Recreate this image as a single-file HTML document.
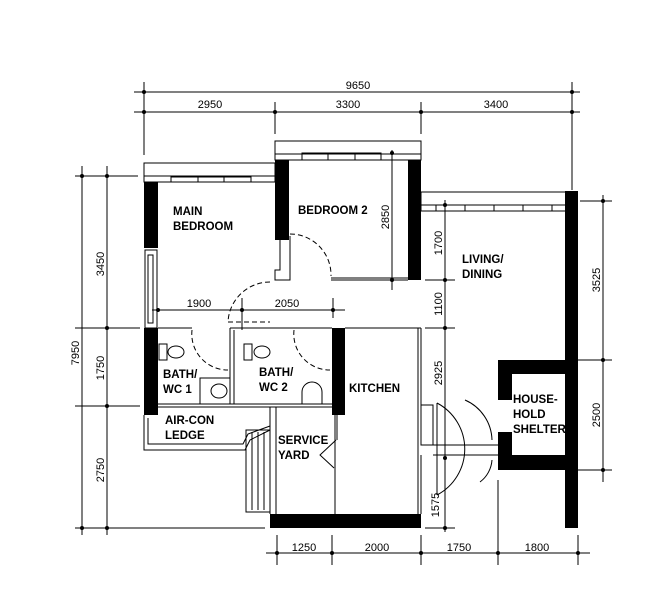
<!DOCTYPE html>
<html><head><meta charset="utf-8"><style>
html,body{margin:0;padding:0;background:#fff;}
svg{display:block;}
text{font-family:"Liberation Sans",Arial,sans-serif;fill:#000;}
.d{font-size:11px;}
.r{font-size:11.5px;font-weight:bold;}
</style></head><body>
<svg width="656" height="600" viewBox="0 0 656 600" xmlns="http://www.w3.org/2000/svg">
<g stroke="#000" stroke-width="1" fill="none">
<line x1="134" y1="92" x2="580" y2="92"/>
<line x1="134" y1="112" x2="580" y2="112"/>
<line x1="144" y1="82" x2="144" y2="155"/>
<line x1="275" y1="102" x2="275" y2="134"/>
<line x1="421" y1="102" x2="421" y2="134"/>
<line x1="572" y1="82" x2="572" y2="190"/>
<line x1="82" y1="166" x2="82" y2="535"/>
<line x1="107" y1="166" x2="107" y2="535"/>
<line x1="75" y1="176" x2="138" y2="176"/>
<line x1="75" y1="328" x2="140" y2="328"/>
<line x1="75" y1="406" x2="140" y2="406"/>
<line x1="75" y1="528" x2="265" y2="528"/>
<line x1="266" y1="553" x2="590" y2="553"/>
<line x1="277" y1="535" x2="277" y2="565"/>
<line x1="332" y1="535" x2="332" y2="565"/>
<line x1="421" y1="535" x2="421" y2="565"/>
<line x1="498" y1="480" x2="498" y2="565"/>
<line x1="578" y1="535" x2="578" y2="565"/>
<line x1="603" y1="195" x2="603" y2="482"/>
<line x1="580" y1="201" x2="612" y2="201"/>
<line x1="567" y1="360" x2="612" y2="360"/>
<line x1="567" y1="470" x2="612" y2="470"/>
<line x1="445" y1="200" x2="445" y2="532"/>
<line x1="425" y1="280" x2="455" y2="280"/>
<line x1="425" y1="328" x2="455" y2="328"/>
<line x1="425" y1="528" x2="455" y2="528"/>
<line x1="392" y1="150" x2="392" y2="290"/>
<line x1="152" y1="310" x2="345" y2="310"/>
<line x1="242" y1="298" x2="242" y2="330"/>
<line x1="333" y1="298" x2="333" y2="318"/>
<rect x="144" y="163" width="131" height="19"/>
<line x1="144" y1="176" x2="275" y2="176"/>
<rect x="171" y="177" width="80" height="5"/>
<line x1="198" y1="177" x2="198" y2="182"/><line x1="224" y1="177" x2="224" y2="182"/>
<rect x="145" y="250" width="12" height="78"/>
<rect x="148" y="255" width="5" height="68"/>
<rect x="275" y="141" width="146" height="19"/>
<line x1="275" y1="154" x2="421" y2="154"/>
<rect x="302" y="153" width="79" height="7"/>
<line x1="328" y1="153" x2="328" y2="160"/><line x1="355" y1="153" x2="355" y2="160"/>
<polyline points="280,240 280,270 275,270 275,280 290,280 290,240"/>
<line x1="331" y1="280" x2="408" y2="280"/><line x1="331" y1="278" x2="408" y2="278"/>
<path d="M290 234 A41 41 0 0 1 331 276" stroke-dasharray="5,3"/>
<line x1="290" y1="236" x2="290" y2="278" stroke-dasharray="5,3"/>
<path d="M270 282 A42 42 0 0 0 228 322" stroke-dasharray="5,3"/>
<line x1="228" y1="322" x2="270" y2="322" stroke-dasharray="5,3"/>
<rect x="421" y="192" width="146" height="19"/>
<line x1="421" y1="205" x2="567" y2="205"/>
<rect x="436" y="205" width="116" height="6"/>
<line x1="465" y1="205" x2="465" y2="211"/><line x1="494" y1="205" x2="494" y2="211"/><line x1="523" y1="205" x2="523" y2="211"/>
<line x1="158" y1="328" x2="192" y2="328"/>
<line x1="230" y1="328" x2="332" y2="328"/>
<line x1="230" y1="328" x2="230" y2="404"/><line x1="234" y1="330" x2="234" y2="404"/>
<line x1="158" y1="404" x2="332" y2="404"/><line x1="158" y1="407" x2="332" y2="407"/>
<path d="M192 330 A36 36 0 0 0 228 370" stroke-dasharray="5,3"/>
<path d="M294 330 A36 36 0 0 0 330 370" stroke-dasharray="5,3"/>
<rect x="200" y="378" width="30" height="26"/>
<ellipse cx="219" cy="391" rx="8" ry="7"/>
<ellipse cx="176" cy="352" rx="8" ry="6"/><rect x="159" y="344" width="8" height="16"/>
<ellipse cx="262" cy="352" rx="8" ry="6"/><rect x="244" y="344" width="8" height="16"/>
<path d="M302 404 L302 392 A10 10 0 0 1 322 392 L322 404"/>
<line x1="345" y1="328" x2="421" y2="328"/>
<line x1="421" y1="328" x2="421" y2="405"/><line x1="418" y1="328" x2="418" y2="514"/>
<line x1="421" y1="455" x2="421" y2="514"/>
<line x1="335" y1="415" x2="335" y2="514"/><line x1="337" y1="415" x2="337" y2="440"/>
<polyline points="336,440 320,455 334,468"/>
<polyline points="144,415 144,450 245,450 250,440 270,430"/>
<polyline points="148,418 148,444 243,444 248,434 270,426"/>
<line x1="270" y1="407" x2="270" y2="514"/><line x1="276" y1="407" x2="276" y2="514"/>
<rect x="246" y="430" width="24" height="82"/>
<line x1="252" y1="432" x2="252" y2="510"/><line x1="258" y1="432" x2="258" y2="510"/><line x1="264" y1="432" x2="264" y2="510"/>
<rect x="421" y="405" width="12" height="40"/>
<line x1="433" y1="445" x2="498" y2="445"/><line x1="433" y1="455" x2="498" y2="455"/>
<path d="M437 403 A52 52 0 0 1 437 495"/>
<line x1="437" y1="403" x2="437" y2="495"/>
<path d="M465 400 A45 45 0 0 1 492 440"/>
<path d="M492 460 A30 30 0 0 1 480 482"/>
</g>
<g fill="#000">
<rect x="144" y="182" width="14" height="66"/>
<rect x="144" y="328" width="14" height="87"/>
<rect x="275" y="160" width="14" height="80"/>
<rect x="408" y="160" width="13" height="120"/>
<rect x="565" y="191" width="13" height="337"/>
<rect x="332" y="328" width="13" height="87"/>
<rect x="270" y="514" width="151" height="14"/>
<path d="M498 360 H567 V470 H498 Z M512 374 V455 H565 V374 Z" fill-rule="evenodd"/>
</g>
<rect x="498" y="400" width="14" height="32" fill="#fff"/>
<g fill="#000">
<circle cx="144" cy="92" r="2"/><circle cx="572" cy="92" r="2"/>
<circle cx="144" cy="112" r="2"/><circle cx="275" cy="112" r="2"/><circle cx="421" cy="112" r="2"/><circle cx="572" cy="112" r="2"/>
<circle cx="82" cy="176" r="2"/><circle cx="82" cy="528" r="2"/>
<circle cx="107" cy="176" r="2"/><circle cx="107" cy="328" r="2"/><circle cx="107" cy="406" r="2"/><circle cx="107" cy="528" r="2"/>
<circle cx="277" cy="553" r="2"/><circle cx="332" cy="553" r="2"/><circle cx="421" cy="553" r="2"/><circle cx="498" cy="553" r="2"/><circle cx="578" cy="553" r="2"/>
<circle cx="603" cy="201" r="2"/><circle cx="603" cy="360" r="2"/><circle cx="603" cy="470" r="2"/>
<circle cx="445" cy="205" r="2"/><circle cx="445" cy="280" r="2"/><circle cx="445" cy="328" r="2"/><circle cx="445" cy="458" r="2"/><circle cx="445" cy="528" r="2"/>
<circle cx="392" cy="153" r="2"/><circle cx="392" cy="280" r="2"/>
<circle cx="158" cy="310" r="2"/><circle cx="242" cy="310" r="2"/><circle cx="333" cy="310" r="2"/>
</g>
<g class="d" text-anchor="middle">
<text x="358" y="89">9650</text>
<text x="210" y="108">2950</text>
<text x="348" y="108">3300</text>
<text x="496" y="108">3400</text>
<text x="199" y="307">1900</text>
<text x="287" y="307">2050</text>
<text x="304" y="551">1250</text>
<text x="377" y="551">2000</text>
<text x="459" y="551">1750</text>
<text x="537" y="551">1800</text>
<text transform="translate(79,353) rotate(-90)">7950</text>
<text transform="translate(104,264) rotate(-90)">3450</text>
<text transform="translate(104,368) rotate(-90)">1750</text>
<text transform="translate(104,470) rotate(-90)">2750</text>
<text transform="translate(389,217) rotate(-90)">2850</text>
<text transform="translate(442,243) rotate(-90)">1700</text>
<text transform="translate(442,304) rotate(-90)">1100</text>
<text transform="translate(442,373) rotate(-90)">2925</text>
<text transform="translate(439,505) rotate(-90)">1575</text>
<text transform="translate(600,280) rotate(-90)">3525</text>
<text transform="translate(600,415) rotate(-90)">2500</text>
</g>
<g class="r">
<text x="173" y="215">MAIN</text>
<text x="173" y="230">BEDROOM</text>
<text x="298" y="214">BEDROOM 2</text>
<text x="462" y="263">LIVING/</text>
<text x="462" y="278">DINING</text>
<text x="163" y="378">BATH/</text>
<text x="163" y="393">WC 1</text>
<text x="259" y="376">BATH/</text>
<text x="259" y="391">WC 2</text>
<text x="349" y="392">KITCHEN</text>
<text x="165" y="424">AIR-CON</text>
<text x="165" y="439">LEDGE</text>
<text x="278" y="444">SERVICE</text>
<text x="278" y="459">YARD</text>
<text x="513" y="403">HOUSE-</text>
<text x="513" y="418">HOLD</text>
<text x="513" y="433">SHELTER</text>
</g>
</svg>
</body></html>
